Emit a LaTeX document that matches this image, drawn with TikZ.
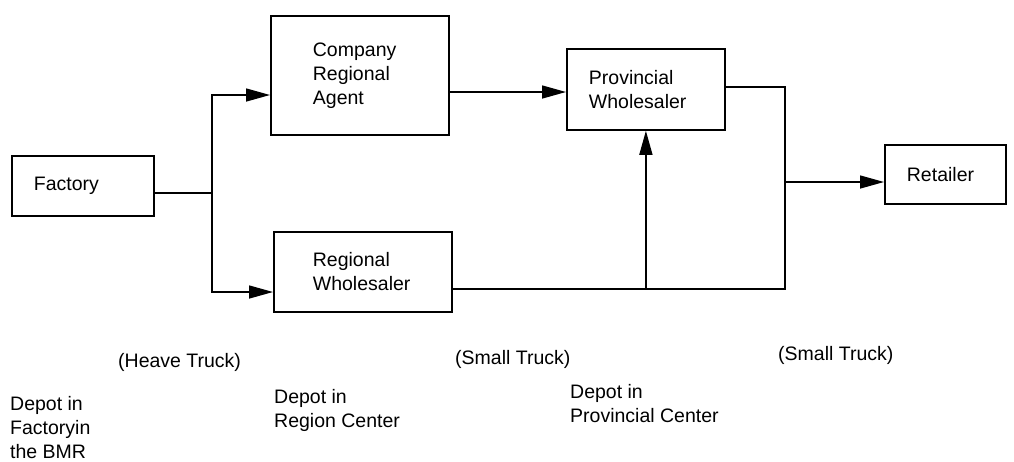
\documentclass[tikz,border=0pt]{standalone}
\usepackage{fontspec}
\setmainfont{Liberation Sans}
\usetikzlibrary{arrows.meta}
\begin{document}
\begin{tikzpicture}[x=1pt,y=-1pt,
  every node/.style={font=\fontsize{19.5}{24}\selectfont},
  box/.style={draw, line width=1.8pt, anchor=north west, align=left,
    inner ysep=0pt},
  link/.style={line width=1.5pt},
  arr/.style={link, -{Triangle[length=24pt,width=13pt]}},
  caption/.style={anchor=base west, align=left, inner sep=0pt}]
\useasboundingbox (0,0) rectangle (1014,461);

% boxes
\node[box, minimum width=142, minimum height=60, inner xsep=22, text width=98]
  (factory) at (11,155) {Factory};
\node[box, minimum width=178, minimum height=119, inner xsep=42, text width=94]
  (agent) at (270,15) {Company\\Regional\\Agent};
\node[box, minimum width=178, minimum height=80, inner xsep=39, text width=100]
  (rw) at (273,231) {Regional\\Wholesaler};
\node[box, minimum width=158, minimum height=81, inner xsep=22, text width=114]
  (pw) at (566,48) {Provincial\\Wholesaler};
\node[box, minimum width=121, minimum height=59, inner xsep=22, text width=77]
  (retailer) at (884,144) {Retailer};

% routing points
\coordinate (j) at (212,193);
\coordinate (ya) at (0,95);
\coordinate (yw) at (0,292);
\coordinate (yp) at (0,92);
\coordinate (c1) at (785,289);
\coordinate (c2) at (785,87);
\coordinate (c3) at (785,182);

% factory split
\draw[link] (factory.east |- j) -- (j);
\draw[arr] (j) |- (agent.west |- ya);
\draw[arr] (j) |- (rw.west |- yw);

% agent to provincial wholesaler
\draw[arr] (agent.east |- yp) -- (pw.west |- yp);

% regional wholesaler loop
\draw[link] (rw.east |- c1) -- (c1) -- (c2) -- (pw.east |- c2);
\draw[arr] (pw.south |- c1) -- (pw.south);
\draw[arr] (c3) -- (retailer.west |- c3);

% captions (base anchor sits on the last line)
\node[caption] (heave) at (118,367) {(Heave Truck)};
\node[caption] (small1) at (455,364) {(Small Truck)};
\node[caption] (small2) at (778,360) {(Small Truck)};
\node[caption] (dep1) at (10,458) {Depot in\\Factoryin\\the BMR};
\node[caption] (dep2) at (274,427) {Depot in\\Region Center};
\node[caption] (dep3) at (570,422) {Depot in\\Provincial Center};
\end{tikzpicture}
\end{document}
